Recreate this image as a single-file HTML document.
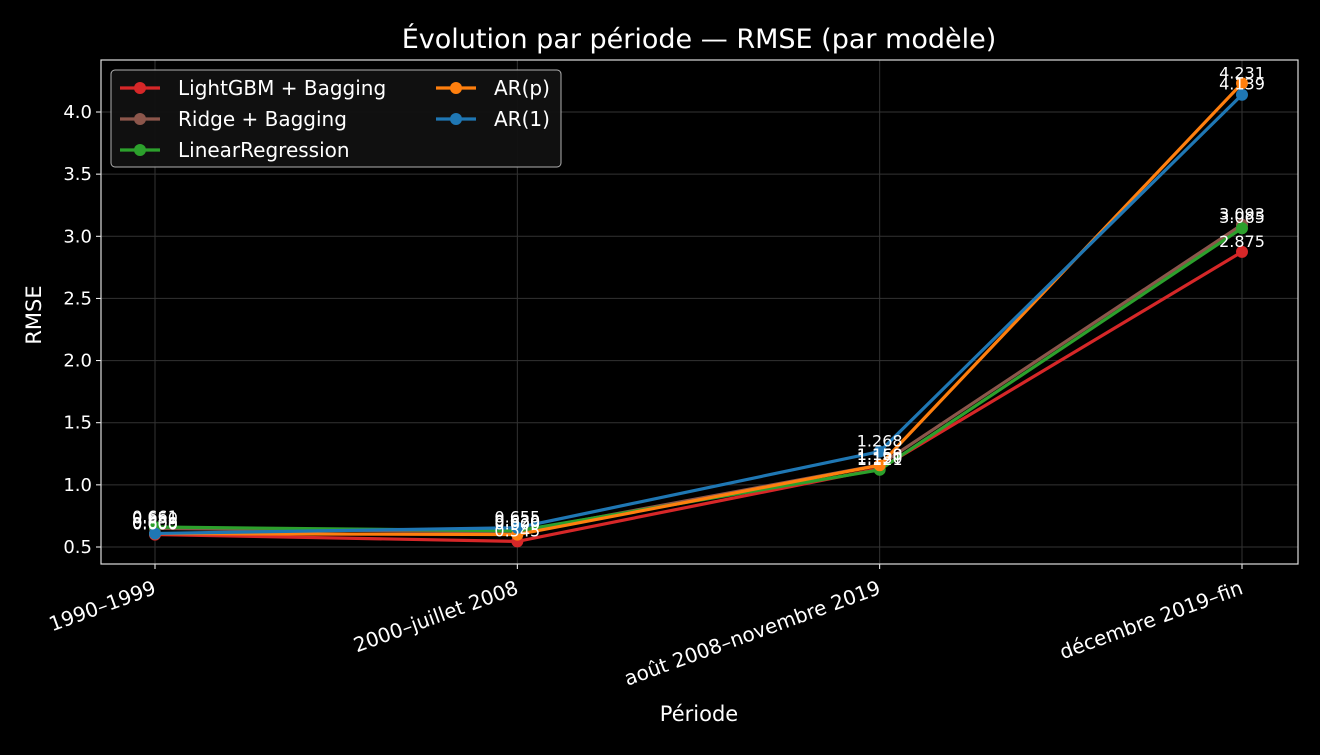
<!DOCTYPE html>
<html><head><meta charset="utf-8"><style>
body{margin:0;background:#000;}
svg text{font-family:"DejaVu Sans","Liberation Sans",sans-serif;fill:#fff;}
</style></head><body>
<svg id="chart" width="1320" height="750">
<rect width="1320" height="750" fill="#000"/>
<g id="grid"></g><g id="series"></g><g id="labels"></g><g id="axes"></g>
<text x="699" y="48" font-size="27" text-anchor="middle">Évolution par période — RMSE (par modèle)</text>
<text x="699" y="721" font-size="21" text-anchor="middle">Période</text>
<text transform="translate(41,315) rotate(-90)" font-size="21" text-anchor="middle">RMSE</text>
<g>
<rect x="111" y="70" width="450" height="97" rx="4" fill="#111" stroke="#bbb" stroke-width="1" opacity="0.95"/>
<g id="legend-items"></g>
</g>
</svg>
<script>
const categories=["1990–1999","2000–juillet 2008","août 2008–novembre 2019","décembre 2019–fin"];
const seriesNames=["LightGBM + Bagging","Ridge + Bagging","LinearRegression","AR(p)","AR(1)"];
const lgbm=[0.600,0.545,1.130,2.875];
const ridge=[0.650,0.620,1.160,3.093];
const linreg=[0.661,0.630,1.121,3.065];
const arp=[0.608,0.600,1.158,4.231];
const ar1=[0.609,0.655,1.268,4.139];
const yTicks=[0.5,1.0,1.5,2.0,2.5,3.0,3.5,4.0];
const seriesValues=[lgbm,ridge,linreg,arp,ar1];
const colors=["#d62728","#8c564b","#2ca02c","#ff7f0e","#1f77b4"];
const NS="http://www.w3.org/2000/svg";
const L=101,R=1298,T=60,B=564;
const xs=i=>155+i*(1242-155)/(categories.length-1);
const ys=v=>547-(v-0.5)*(547-112)/3.5;
function mk(t,a,p){const e=document.createElementNS(NS,t);for(const k in a)e.setAttribute(k,a[k]);p.appendChild(e);return e;}
const grid=document.getElementById('grid'),axes=document.getElementById('axes');
yTicks.forEach(v=>{
 const l=mk('line',{x1:L,x2:R,y1:ys(v),y2:ys(v),stroke:'#333','stroke-width':1},grid);
 
 
 mk('line',{x1:L-5,x2:L,y1:ys(v),y2:ys(v),stroke:'#fff'},axes);
 const t=mk('text',{x:L-9,y:ys(v)+6,'font-size':18,'text-anchor':'end'},axes);t.textContent=v.toFixed(1);
 
 
});
categories.forEach((c,i)=>{
 const l=mk('line',{x1:xs(i),x2:xs(i),y1:T,y2:B,stroke:'#333'},grid);
 
 
 mk('line',{x1:xs(i),x2:xs(i),y1:B,y2:B+5,stroke:'#fff'},axes);
 const ax=xs(i)-3,ay=B+15;
 const t=mk('text',{x:ax,y:ay,'font-size':20,'text-anchor':'end','dominant-baseline':'hanging',transform:`rotate(-20 ${ax} ${ay})`},axes);t.textContent=c;
 
 
});
const fr=mk('rect',{x:L,y:T,width:R-L,height:B-T,fill:'none',stroke:'#ddd','stroke-width':1.2},axes);


const sg=document.getElementById('series'),lg=document.getElementById('labels');
seriesValues.forEach((vals,s)=>{
 const g=mk('g',{},sg);
 
 
 mk('polyline',{points:vals.map((v,i)=>xs(i)+','+ys(v)).join(' '),fill:'none',stroke:colors[s],'stroke-width':3.2},g);
 vals.forEach((v,i)=>{
  const c=mk('circle',{cx:xs(i),cy:ys(v),r:6,fill:colors[s]},g);
  
  
  const t=mk('text',{x:xs(i),y:ys(v)-5,'font-size':16,'text-anchor':'middle'},lg);t.textContent=v.toFixed(3);
  
  
 });
});
const li=document.getElementById('legend-items');
seriesNames.forEach((n,s)=>{
 const col=s<3?0:1,row=s<3?s:s-3;
 const x=120+col*316,y=88+row*31;
 const g=mk('g',{},li);
 
 
 mk('line',{x1:x,x2:x+40,y1:y,y2:y,stroke:colors[s],'stroke-width':3.2},g);
 mk('circle',{cx:x+20,cy:y,r:6,fill:colors[s]},g);
 const t=mk('text',{x:x+58,y:y+7,'font-size':20},g);t.textContent=n;
});
</script>
</body></html>
